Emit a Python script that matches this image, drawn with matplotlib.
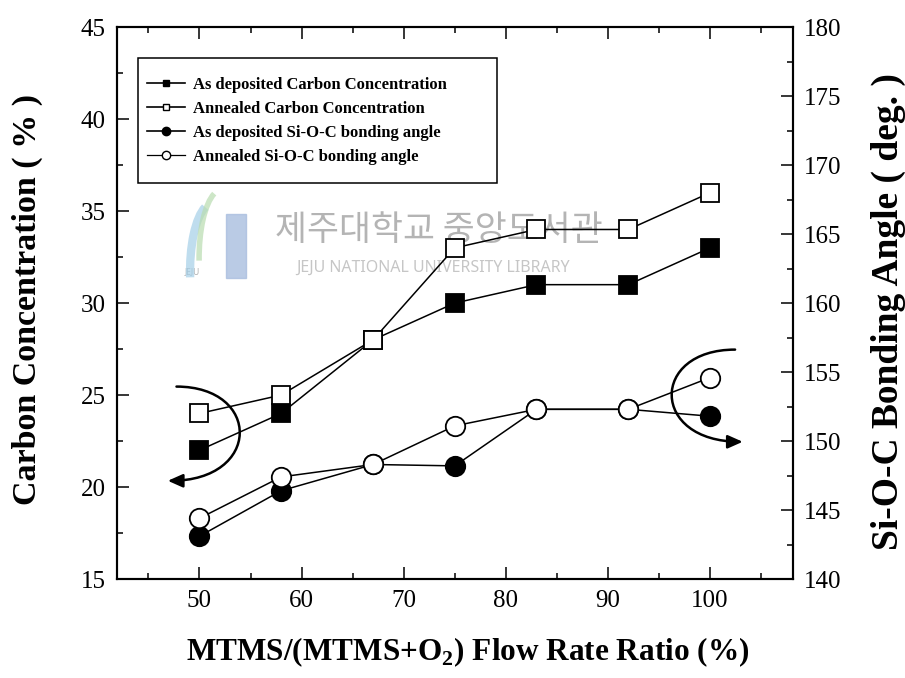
import numpy as np
import matplotlib
matplotlib.use("Agg")
import matplotlib.pyplot as plt
from matplotlib.lines import Line2D
from matplotlib.patches import FancyArrowPatch, Rectangle, Arc
from matplotlib.path import Path

plt.rcParams['font.family'] = ['Liberation Serif', 'DejaVu Serif']
plt.rcParams['mathtext.fontset'] = 'custom'
plt.rcParams['mathtext.rm'] = 'Liberation Serif'
plt.rcParams['mathtext.bf'] = 'Liberation Serif:bold'

# MTMS flow rate ratio (%)
ratio = [50, 58, 67, 75, 83, 92, 100]
# carbon concentration (%)
carbon_dep = [22, 24, 28, 30, 31, 31, 33]
carbon_ann = [24, 25, 28, 33, 34, 34, 36]
# Si-O-C bonding angle (deg)
angle_dep = [143.1, 146.4, 148.3, 148.2, 152.3, 152.3, 151.8]
angle_ann = [144.4, 147.4, 148.3, 151.1, 152.3, 152.3, 154.6]

fig = plt.figure(figsize=(9.05, 6.78), dpi=100)
ax = fig.add_axes([0.129, 0.146, 0.747, 0.814])
ax2 = ax.twinx()

ln = 1.1
ax.plot(ratio, carbon_dep, '-', color='black', lw=ln, marker='s', ms=13,
        mfc='black', mec='black', mew=1.3, zorder=3)
ax.plot(ratio, carbon_ann, '-', color='black', lw=ln, marker='s', ms=13,
        mfc='white', mec='black', mew=1.3, zorder=4)
ax2.plot(ratio, angle_dep, '-', color='black', lw=ln, marker='o', ms=14,
         mfc='black', mec='black', mew=1.3, zorder=3)
ax2.plot(ratio, angle_ann, '-', color='black', lw=ln, marker='o', ms=14,
         mfc='white', mec='black', mew=1.3, zorder=4)

ax.set_xlim(41.9, 108.1)
ax.set_ylim(15, 45)
ax2.set_ylim(140, 180)
ax.set_xticks(np.arange(50, 101, 10))
ax.set_xticks(np.arange(45, 108, 5), minor=True)
ax.set_yticks(np.arange(15, 46, 5))
ax.set_yticks(np.arange(15, 45, 2.5), minor=True)
ax2.set_yticks(np.arange(140, 181, 5))
ax2.set_yticks(np.arange(140, 180, 2.5), minor=True)

ax.tick_params(which='both', direction='in', top=True, labelsize=18, width=1.1)
ax.tick_params(which='major', length=8.5, pad=8)
ax.tick_params(which='minor', length=4.5)
ax2.tick_params(which='both', direction='in', labelsize=18, width=1.1)
ax2.tick_params(which='major', length=8.5, pad=8)
ax2.tick_params(which='minor', length=4.5)
for a in (ax, ax2):
    for s in a.spines.values():
        s.set_linewidth(1.5)

ax.set_xlabel('MTMS/(MTMS+O$_\\mathbf{2}$) Flow Rate Ratio (%)', fontsize=22.5,
              fontweight='bold')
ax.set_ylabel('Carbon Concentration ( % )', fontsize=24.5, fontweight='bold')
ax2.set_ylabel('Si-O-C Bonding Angle ( deg. )', fontsize=27, fontweight='bold')
ax.xaxis.label.set_va('center')
ax.yaxis.label.set_va('center')
ax2.yaxis.label.set_va('center')
ax.xaxis.set_label_coords(0.519, -0.132)
ax.yaxis.set_label_coords(-0.132, 0.506)
ax2.yaxis.set_label_coords(1.142, 0.485)

# legend box drawn separately so it can be wider than the text
ax.add_patch(Rectangle((0.031, 0.717), 0.531, 0.227, transform=ax.transAxes,
                       fill=False, edgecolor='black', lw=1.1, zorder=6))
handles = [
    Line2D([], [], color='black', lw=1.2, marker='s', ms=5, mfc='black', mec='black'),
    Line2D([], [], color='black', lw=1.2, marker='s', ms=5, mfc='white', mec='black'),
    Line2D([], [], color='black', lw=1.2, marker='o', ms=6, mfc='black', mec='black'),
    Line2D([], [], color='black', lw=0.9, marker='o', ms=6, mfc='white', mec='black'),
]
labels = ['As deposited Carbon Concentration', 'Annealed Carbon Concentration',
          'As deposited Si-O-C bonding angle', 'Annealed Si-O-C bonding angle']
leg = ax.legend(handles, labels, loc='upper left', bbox_to_anchor=(0.0444, 0.910),
                prop={'weight': 'bold', 'size': 12}, frameon=False,
                handlelength=2.3, handletextpad=0.48,
                labelspacing=0.49, borderpad=0, borderaxespad=0)
leg.set_zorder(6)

# curved arrows pointing to each axis
def curved_arrow(p0, p3, bulge_x):
    verts = [p0, (bulge_x, p0[1]), (bulge_x, p3[1]), p3]
    path = Path(verts, [Path.MOVETO, Path.CURVE4, Path.CURVE4, Path.CURVE4])
    arr = FancyArrowPatch(path=path, arrowstyle='-|>,head_length=9,head_width=4',
                          color='black', lw=1.8, transform=ax.transData, zorder=5)
    ax.add_patch(arr)

curved_arrow((47.75, 25.46), (46.9, 20.34), 56.1)
curved_arrow((102.45, 27.47), (103.2, 22.46), 94.1)

# library watermark
wm = dict(transform=fig.transFigure, zorder=0)
fig.text(0.485, 0.66, '제주대학교 중앙도서관', fontsize=25, color='#b4b4b4',
         family=['Noto Sans CJK KR'], ha='center', va='center', **wm)
fig.text(0.478, 0.605, 'JEJU NATIONAL UNIVERSITY LIBRARY', fontsize=11.5,
         color='#c6c6c6', family=['Noto Sans'], ha='center', va='center', **wm)
fig.patches.append(Rectangle((0.25, 0.59), 0.022, 0.095, transform=fig.transFigure,
                             color='#a9bedf', alpha=0.8, zorder=0))
fig.patches.append(Arc((0.235, 0.60), 0.05, 0.2, theta1=95, theta2=200,
                       transform=fig.transFigure, color='#a5cfe8', lw=6, alpha=0.7))
fig.patches.append(Arc((0.245, 0.62), 0.05, 0.2, theta1=95, theta2=190,
                       transform=fig.transFigure, color='#b8dcb0', lw=4, alpha=0.7))
fig.text(0.212, 0.60, 'JEJU', fontsize=6, color='#b0b0b0', family=['Noto Sans'],
         ha='center', va='center', **wm)

ax.set_zorder(ax2.get_zorder() + 1)
ax.patch.set_visible(False)

fig.savefig('out.png', dpi=100)
